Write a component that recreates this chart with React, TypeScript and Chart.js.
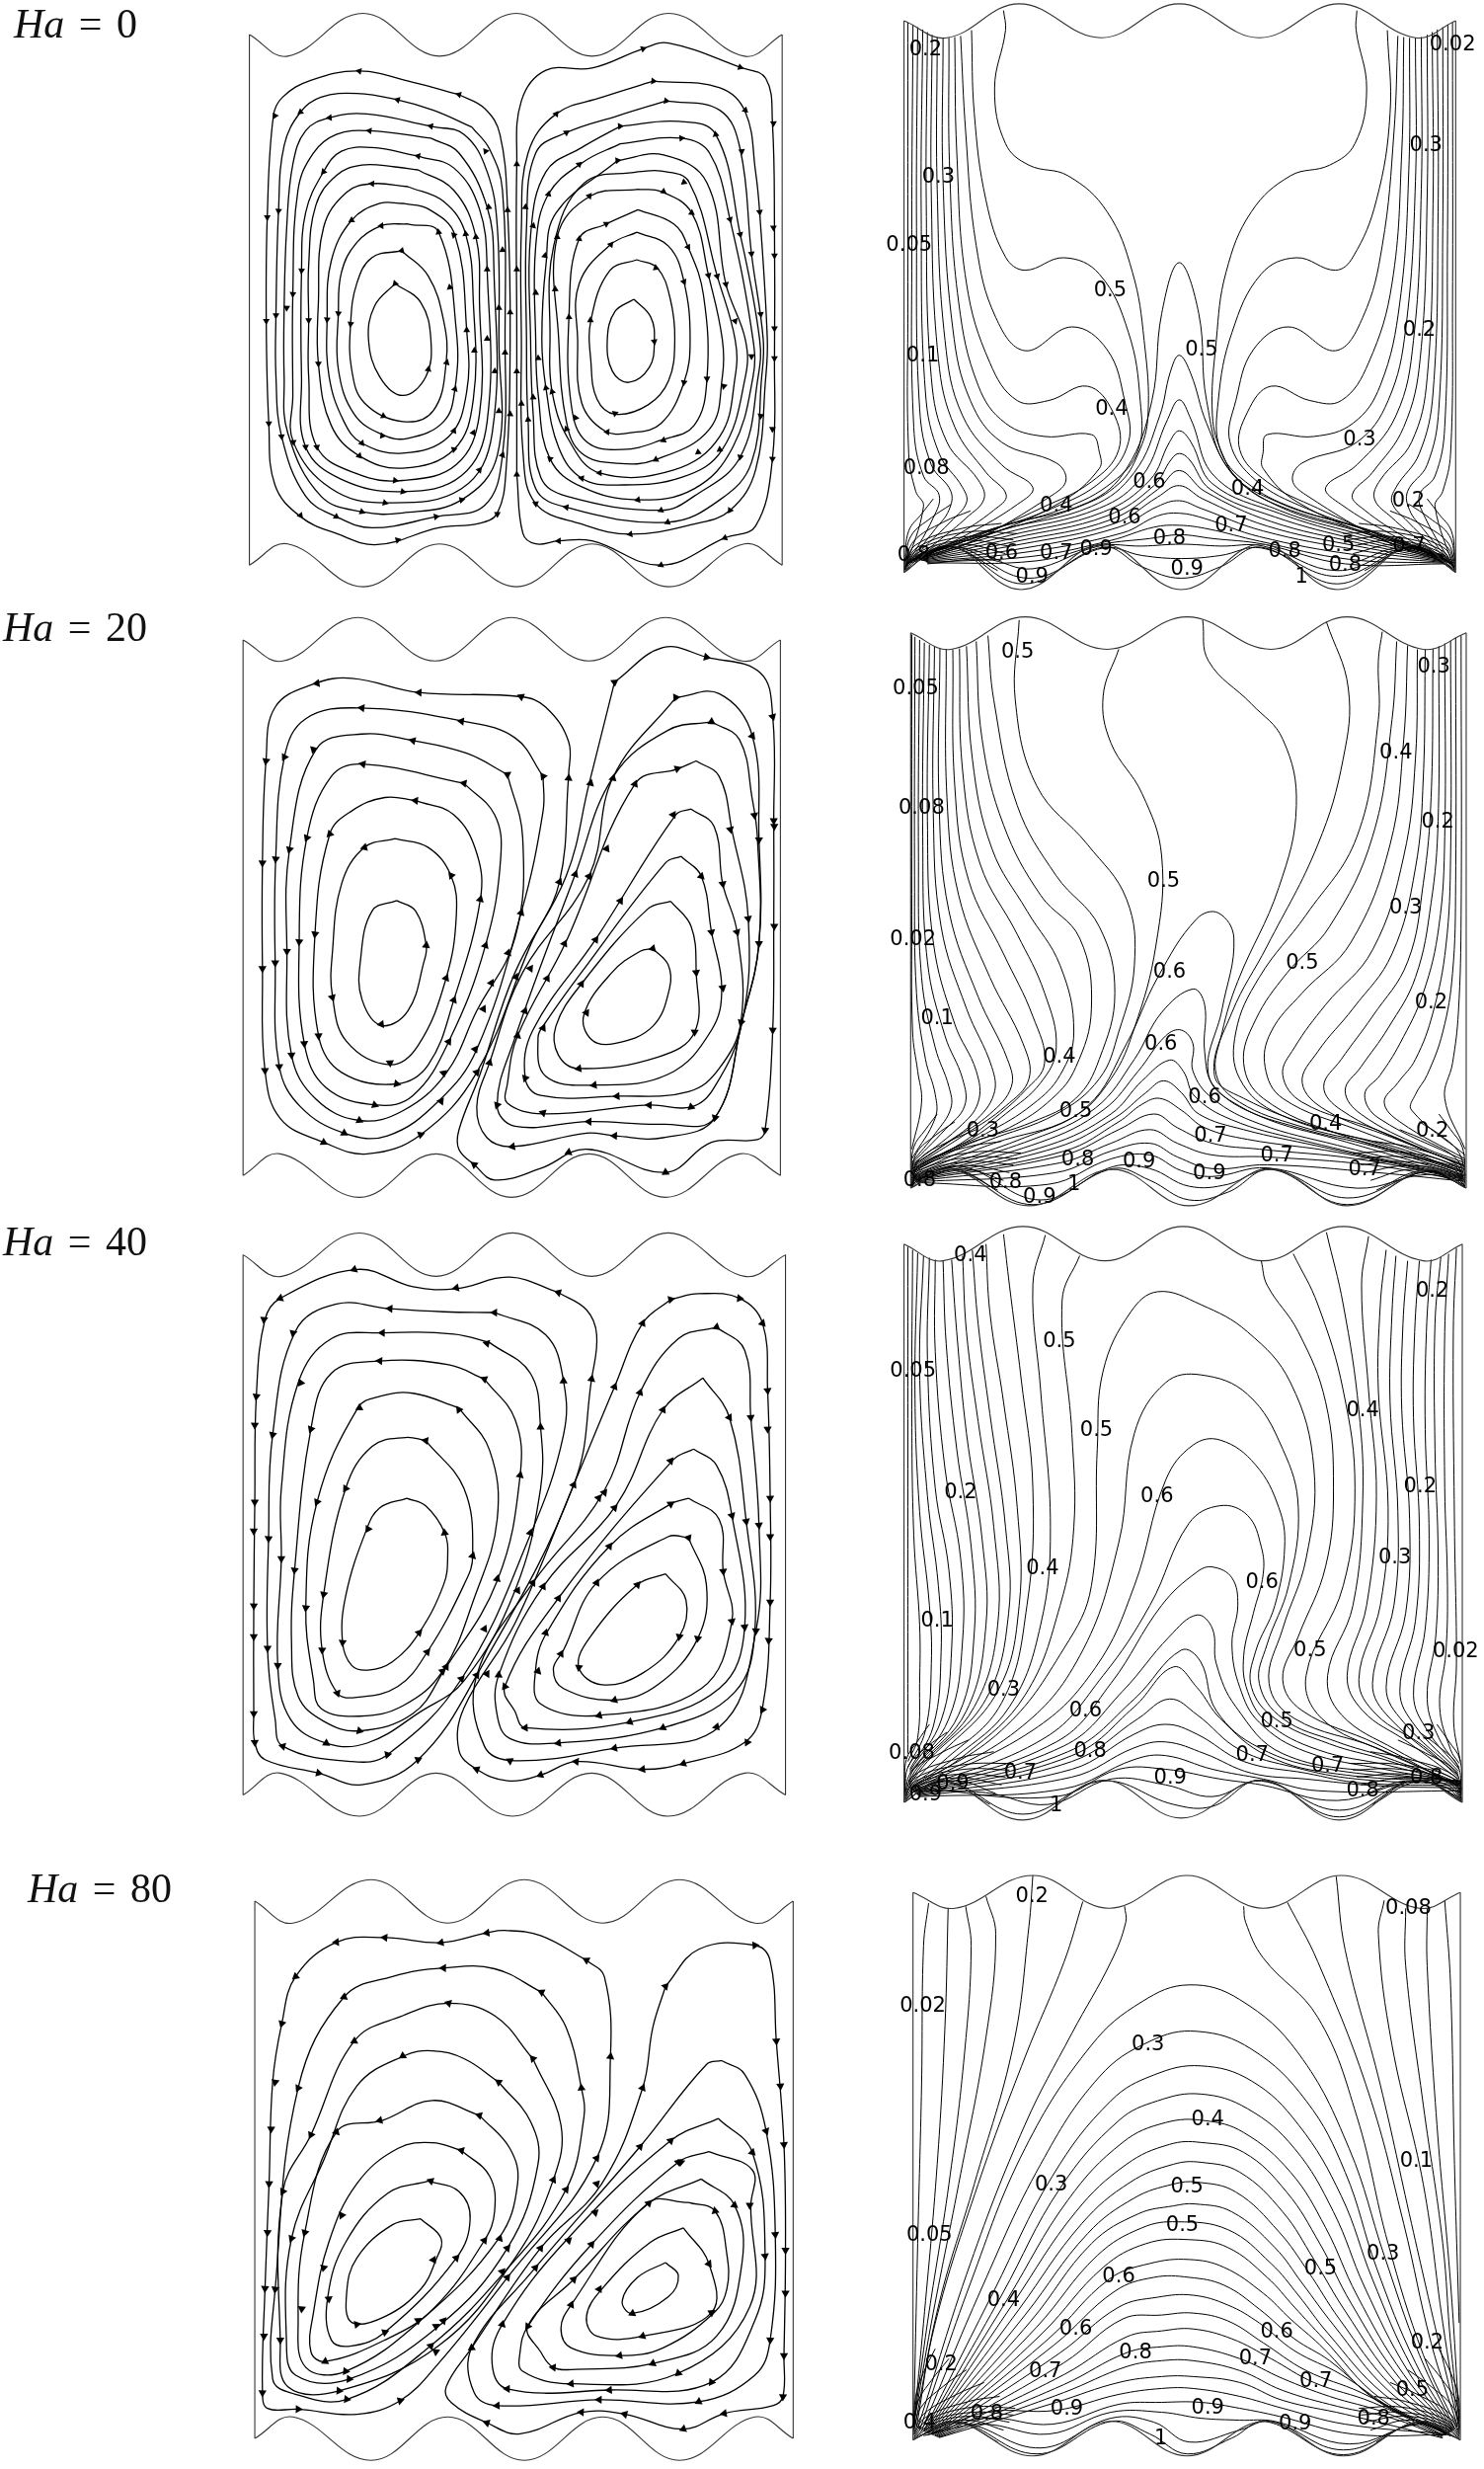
import React, { useEffect, useRef } from "react";
import { Chart, registerables } from "chart.js";
Chart.register(...registerables);

// ---- Values; every panel uses a 0..1568 axis on both directions ----
const ha0WaveTop = [480,82,555,140,702,25,852,140,1002,25,1150,140,1300,25,1448,140,1522,82];
const ha0WaveBottom = [480,1505,555,1448,703,1563,852,1448,1002,1563,1150,1448,1300,1563,1448,1448,1522,1505];
const ha0Stream: number[][] = [
 [765,750,725,810,713,900,735,1000,780,1050,825,1000,835,900,815,800,765,750],
 [778,662,720,680,690,750,678,858,680,980,705,1070,780,1120,840,1090,865,960,860,850,830,730,778,662],
 [790,590,738,595,690,640,660,720,654,830,654,980,685,1100,740,1155,790,1165,860,1120,882,1033,885,880,850,612,790,590],
 [780,535,735,535,680,580,640,690,632,846,636,1000,665,1120,700,1178,780,1205,870,1160,905,1040,905,875,882,620,830,550,780,535],
 [790,490,720,482,670,505,625,600,615,800,615,965,640,1130,695,1212,780,1245,880,1195,918,1060,918,800,903,617,860,530,790,490],
 [810,445,765,437,700,432,650,460,610,540,596,700,596,848,596,1000,612,1188,690,1260,780,1278,885,1235,930,1100,930,800,923,625,880,500,810,445],
 [810,408,720,385,660,395,625,450,590,560,582,715,582,1000,590,1188,660,1275,780,1308,895,1265,945,1120,945,712,930,550,880,440,810,408],
 [835,360,715,340,650,350,605,400,575,500,565,778,565,1050,566,1175,640,1300,745,1338,895,1300,955,1150,958,700,945,545,890,400,835,360],
 [835,328,710,295,637,305,590,340,565,430,553,600,548,815,548,1000,555,1150,620,1320,700,1362,780,1365,895,1330,965,1210,968,900,965,600,945,450,900,350,835,328],
 [915,330,840,285,770,257,690,240,620,250,580,290,548,380,537,555,532,835,532,1000,543,1160,590,1320,650,1375,720,1405,845,1375,940,1345,975,1210,980,900,975,500,950,390,915,330],
 [890,243,800,210,695,180,600,205,545,250,527,300,515,570,513,850,518,1125,530,1290,580,1375,650,1420,730,1450,850,1405,930,1393,965,1365,982,1250,990,900,985,550,970,350,940,280,890,243],
 [1232,792,1265,840,1272,905,1262,975,1222,1015,1190,985,1180,900,1195,825,1232,792],
 [1238,686,1278,708,1303,790,1312,900,1300,1010,1260,1075,1195,1100,1160,1060,1148,960,1148,848,1185,715,1238,686],
 [1238,612,1300,650,1330,745,1342,900,1330,1015,1285,1125,1225,1150,1175,1145,1130,1070,1122,900,1125,750,1187,645,1238,612],
 [1240,552,1310,590,1338,652,1368,780,1375,1005,1350,1130,1285,1170,1210,1195,1140,1175,1110,1080,1105,840,1125,630,1178,590,1240,552],
 [1240,497,1285,503,1345,560,1378,728,1405,900,1405,1000,1380,1140,1275,1222,1200,1232,1130,1205,1100,1120,1085,900,1082,625,1147,515,1240,497],
 [1240,450,1285,448,1340,478,1395,730,1430,900,1430,1000,1400,1160,1310,1250,1165,1258,1105,1170,1072,1040,1068,900,1075,650,1135,480,1240,450],
 [1200,420,1290,405,1375,480,1412,752,1450,900,1450,1000,1405,1195,1325,1270,1200,1290,1130,1272,1085,1190,1060,1030,1052,900,1060,700,1080,560,1200,420],
 [1205,375,1325,360,1380,400,1420,578,1465,900,1465,1000,1425,1190,1350,1300,1240,1330,1130,1295,1068,1220,1045,1050,1040,900,1040,650,1065,510,1132,425,1205,375],
 [1205,328,1320,315,1392,350,1440,618,1478,900,1475,1000,1440,1215,1350,1320,1285,1358,1100,1320,1050,1270,1035,1100,1030,900,1030,620,1060,450,1130,385,1205,328],
 [1295,260,1400,285,1440,390,1462,670,1485,900,1482,1000,1462,1230,1400,1330,1298,1390,1100,1350,1040,1300,1025,1115,1022,900,1022,600,1040,400,1100,345,1200,300,1295,260],
 [1270,207,1400,225,1450,290,1470,450,1478,558,1493,900,1490,1000,1470,1250,1420,1358,1350,1395,1225,1422,1130,1395,1040,1340,1015,1200,1012,900,1012,600,1025,400,1080,295,1170,250,1270,207],
 [1003,1262,1003,900,1003,430,1012,260,1060,178,1150,172,1250,120,1300,105,1440,170,1490,200,1503,320,1507,600,1507,950,1503,1220,1470,1400,1410,1432,1285,1505,1150,1440,1085,1440,1040,1448,1015,1420,1003,1262],
];
const ha0Arrows = [695,180,890,243,530,300,515,572,513,850,518,1125,580,1372,650,1375,770,1438,965,1368,770,257,580,290,537,555,532,835,543,1160,700,1362,845,1375,835,328,637,305,553,815,565,778,582,715,566,1175,590,1188,612,1188,745,1338,780,1308,895,1330,715,340,625,450,596,848,615,965,695,1212,765,1278,810,408,720,482,680,580,632,846,654,830,678,858,738,595,778,662,765,750,742,1105,740,1158,700,1178,830,980,866,962,882,1033,880,1145,920,930,918,1150,880,1195,930,1250,975,1210,945,712,948,545,942,395,903,617,923,625,850,612,880,620,872,760,905,875,975,660,968,815,990,827,945,898,980,935,960,985,1003,712,968,1092,990,1100,1003,985,1012,1072,1035,1055,1025,1115,1060,1030,1072,1040,1045,950,1040,775,1058,675,1078,765,1105,840,1147,848,1035,595,1020,545,985,553,1003,430,1003,1262,1080,295,1100,345,1125,430,1145,515,1178,590,1187,645,1125,630,1082,625,1065,510,1270,207,1295,260,1205,328,1200,420,1290,503,1325,360,1250,120,1440,170,1450,285,1392,350,1443,395,1330,478,1345,560,1420,578,1440,618,1478,558,1462,670,1338,652,1275,708,1330,745,1378,728,1395,730,1412,752,1430,850,1480,832,1462,945,1272,905,1330,1015,1375,1005,1408,1025,1480,1105,1440,1215,1400,1195,1350,1188,1290,1170,1195,1098,1180,1148,1275,1222,1165,1258,1130,1272,1240,1330,1100,1350,1285,1358,1298,1390,1225,1422,1085,1440,1040,1340,1068,1220,1100,1140,1118,1110,1505,320,1505,600,1507,675,1507,870,1507,950,1503,1140,1503,1220,1410,1432,1420,1358,1285,1505];

const ha0IsoTop = [90,55,200,100,385,10,595,100,795,10,1000,100,1205,10,1400,100,1503,55];
const ha0IsoBottom = [90,1515,200,1440,390,1560,600,1440,800,1560,1005,1440,1200,1560,1395,1440,1503,1515];
const ha0Iso: number[][] = [
 [345,28,350,80,322,235,350,380,410,437,510,465,610,560,675,720,705,900,715,1100,690,1200,640,1280,540,1340,350,1400,120,1470],
 [263,80,270,300,300,530,350,680,400,715,500,682,590,725,665,880,695,1060,690,1190,625,1275,500,1345,300,1405,115,1475],
 [235,95,248,350,275,650,325,840,400,928,520,865,610,925,655,1060,665,1170,600,1270,470,1345,280,1415,112,1480],
 [220,98,225,400,250,750,310,960,380,1060,460,1060,560,1022,625,1090,640,1190,570,1275,440,1345,270,1422,110,1482],
 [205,100,207,450,230,800,280,1020,350,1120,450,1155,570,1150,590,1195,590,1240,490,1330,270,1430,108,1485],
 [190,100,190,480,215,870,260,1060,340,1170,480,1225,505,1270,470,1310,260,1435,105,1490],
 [175,98,175,500,195,900,240,1100,340,1230,420,1290,380,1335,250,1415,100,1490],
 [162,92,160,520,178,950,220,1130,300,1250,352,1310,320,1350,220,1420,98,1492],
 [150,85,147,540,160,1000,200,1170,280,1270,295,1320,250,1370,180,1430,96,1495],
 [138,78,134,560,145,1040,180,1200,240,1290,250,1330,210,1380,150,1440,94,1498],
 [125,72,122,600,130,1080,160,1230,210,1300,205,1350,170,1400,92,1500],
 [113,65,110,650,115,1130,140,1260,180,1310,165,1370,92,1505],
 [100,60,100,800,102,1200,120,1300,140,1340,92,1508],
 [130,1470,330,1395,560,1330,660,1240,725,1060,750,830,795,695,845,830,865,1060,920,1240,1050,1330,1250,1395,1470,1470],
 [130,1472,340,1402,570,1340,680,1250,745,1100,772,985,795,940,825,990,865,1120,930,1250,1050,1340,1250,1405,1470,1472],
 [135,1474,350,1410,590,1345,700,1260,765,1110,795,1058,825,1110,885,1260,1050,1350,1250,1412,1470,1475],
 [135,1476,360,1417,600,1355,720,1270,770,1170,795,1140,825,1170,880,1280,1050,1358,1250,1420,1470,1477],
 [138,1478,370,1424,610,1365,730,1285,775,1215,795,1200,820,1215,875,1295,1040,1368,1250,1428,1470,1479],
 [140,1480,380,1432,620,1375,740,1295,795,1245,860,1300,1030,1380,1250,1436,1470,1482],
 [140,1482,390,1440,630,1385,740,1315,795,1285,855,1320,1020,1392,1250,1445,1470,1484],
 [142,1484,400,1450,640,1395,740,1340,795,1325,850,1345,1010,1405,1250,1455,1470,1486],
 [145,1486,410,1460,650,1410,740,1365,795,1358,860,1372,1000,1420,1240,1467,1472,1488],
 [148,1488,420,1472,620,1430,730,1395,795,1390,870,1400,1000,1432,1230,1480,1474,1490],
 [150,1490,430,1484,600,1440,720,1425,795,1415,880,1425,1010,1440,1220,1492,1476,1492],
 [150,1492,300,1480,420,1505,590,1445,700,1445,800,1440,900,1445,1010,1445,1200,1510,1380,1450,1480,1495],
 [130,1480,220,1445,410,1530,600,1450,700,1470,800,1478,900,1470,1005,1450,1200,1525,1395,1446,1490,1500],
 [120,1485,210,1445,395,1545,600,1448,700,1500,800,1530,900,1500,1005,1448,1200,1545,1395,1443,1495,1505],
 [1250,28,1248,80,1275,235,1245,380,1180,437,1080,465,980,560,915,720,890,900,880,1100,905,1200,955,1280,1055,1340,1245,1400,1475,1470],
 [1328,80,1335,300,1300,530,1240,680,1195,715,1095,682,1005,725,930,880,895,1060,900,1190,965,1275,1090,1345,1290,1405,1478,1475],
 [1355,95,1345,350,1315,650,1265,840,1195,928,1075,865,985,925,940,1060,925,1170,990,1270,1120,1345,1310,1415,1480,1480],
 [1370,98,1365,400,1340,750,1280,960,1210,1060,1130,1060,1030,1022,970,1090,950,1190,1020,1275,1150,1345,1320,1422,1482,1482],
 [1385,100,1383,450,1360,800,1310,1020,1240,1120,1140,1155,1020,1150,1010,1195,1010,1240,1100,1330,1320,1430,1485,1485],
 [1400,100,1400,480,1375,870,1330,1060,1250,1170,1110,1225,1085,1270,1120,1310,1330,1435,1488,1490],
 [1415,98,1415,500,1395,900,1350,1100,1250,1230,1170,1290,1210,1335,1340,1415,1490,1490],
 [1430,92,1430,520,1412,950,1370,1130,1290,1250,1238,1310,1270,1350,1370,1420,1492,1492],
 [1443,85,1445,540,1430,1000,1390,1170,1310,1270,1295,1320,1340,1370,1410,1430,1495,1495],
 [1456,78,1458,560,1445,1040,1410,1200,1350,1290,1340,1330,1380,1380,1440,1440,1497,1498],
 [1470,72,1470,600,1460,1080,1430,1230,1380,1300,1385,1350,1420,1400,1500,1500],
 [1483,65,1482,650,1475,1130,1450,1260,1410,1310,1425,1370,1500,1505],
 [1495,60,1495,800,1490,1200,1470,1300,1450,1340,1500,1508],
];
const ha0IsoFan: number[][] = [
 [92,1513,150,1470,215,1448,330,1510],[92,1511,140,1470,240,1450,340,1485],[92,1509,135,1465,240,1440,350,1465],[92,1507,130,1460,245,1430,360,1445],[92,1504,125,1455,250,1420,370,1428],[92,1501,125,1448,250,1408,380,1412],[92,1498,120,1442,240,1398,340,1385],[92,1494,115,1432,190,1382,260,1352],[92,1489,108,1418,160,1370,210,1335],[92,1484,102,1405,135,1360,165,1320],
 [1502,1513,1440,1470,1385,1448,1270,1510],[1502,1511,1450,1470,1355,1450,1255,1485],[1502,1509,1455,1465,1350,1440,1240,1465],[1502,1507,1460,1460,1345,1430,1235,1445],[1502,1504,1465,1455,1340,1420,1225,1428],[1502,1501,1470,1448,1340,1408,1215,1412],[1502,1498,1475,1442,1350,1398,1255,1385],[1502,1494,1480,1432,1405,1382,1335,1352],[1502,1489,1487,1418,1435,1370,1385,1335],[1502,1484,1492,1405,1460,1360,1430,1320],
];
const ha0IsoLabels: [string, number, number][] = [["0.2",145,133],["0.02",1495,118],["0.3",178,468],["0.3",1427,385],["0.05",103,650],["0.5",618,770],["0.2",1410,873],["0.5",852,927],["0.1",138,943],["0.4",622,1083],["0.3",1257,1165],["0.08",147,1240],["0.6",718,1278],["0.4",970,1295],["0.2",1382,1327],["0.4",480,1340],["0.6",655,1370],["0.7",928,1392],["0.8",770,1425],["0.5",1203,1443],["0.7",1383,1447],["0.8",1065,1460],["0.6",340,1465],["0.7",480,1465],["0.9",582,1455],["0.8",115,1470],["0.8",1220,1497],["0.9",815,1507],["0.9",418,1527],["1",1108,1527]];

const ha20WaveTop = [467,85,545,140,692,27,843,140,993,27,1145,140,1295,27,1445,140,1520,85];
const ha20WaveBottom = [467,1478,540,1422,695,1535,845,1422,993,1535,1145,1422,1295,1535,1440,1422,1520,1478];
const ha20Stream: number[][] = [
 [768,763,720,790,697,920,700,1020,738,1088,790,1050,822,920,826,880,805,790,768,763],
 [765,602,705,625,660,720,642,900,642,1010,670,1130,755,1190,810,1140,865,965,885,800,875,700,830,625,765,602],
 [805,503,745,495,680,530,637,590,608,850,615,1115,660,1210,768,1240,830,1190,880,1022,932,760,925,640,880,540,805,503],
 [900,458,700,408,640,440,592,600,577,870,587,1135,630,1250,730,1295,800,1270,870,1130,942,880,972,650,960,540,900,458],
 [985,435,905,380,800,347,700,330,610,370,558,630,553,895,562,1165,610,1280,695,1335,780,1310,865,1212,925,1050,1000,860,1015,600,985,435],
 [1055,440,1000,340,900,297,695,262,590,290,548,390,531,655,530,925,538,1195,580,1300,665,1368,750,1375,850,1285,925,1150,1012,795,1055,530,1055,440],
 [1105,440,1105,350,1060,260,1012,233,812,222,680,185,605,200,530,260,512,400,505,665,505,940,510,1205,540,1330,625,1392,710,1422,815,1372,925,1210,1030,880,1087,715,1105,440],
 [1270,888,1300,930,1303,990,1270,1090,1195,1135,1150,1125,1135,1060,1190,950,1245,895,1270,888],
 [1305,765,1345,830,1355,950,1352,1105,1280,1170,1125,1200,1085,1165,1080,1090,1130,980,1260,785,1305,765],
 [1325,648,1365,700,1385,845,1405,990,1385,1100,1300,1215,1155,1243,1060,1220,1045,1120,1060,1080,1130,950,1295,665,1325,648],
 [1345,525,1390,570,1407,720,1435,845,1443,1075,1400,1200,1340,1260,1200,1272,1050,1270,1020,1225,1035,1100,1160,860,1315,540,1345,525],
 [1355,400,1400,440,1425,580,1457,810,1445,1080,1390,1250,1345,1300,1263,1295,1055,1318,985,1290,985,1240,1005,1115,1100,870,1235,460,1320,420,1355,400],
 [1385,298,1440,345,1465,500,1475,600,1478,875,1445,1075,1390,1330,1290,1345,1145,1338,1000,1350,965,1295,1000,1120,1118,695,1193,440,1300,320,1385,298],
 [1315,235,1400,225,1465,335,1478,600,1478,875,1445,1075,1392,1328,1290,1380,1195,1375,1140,1368,995,1403,945,1380,925,1300,950,1185,1015,950,1145,700,1193,440,1315,235],
 [1195,195,1290,105,1375,130,1480,170,1505,285,1507,560,1507,830,1505,1100,1490,1360,1475,1385,1385,1392,1295,1470,1140,1410,1050,1460,960,1490,920,1450,890,1410,890,1360,930,1220,1000,950,1100,700,1145,460,1195,195],
];
const ha20Arrows = [612,198,812,222,1012,233,512,400,505,665,505,940,510,1205,625,1392,815,1372,700,262,895,297,548,390,531,655,530,925,538,1195,665,1368,855,1285,800,347,605,370,558,630,553,895,562,1165,695,1335,860,1212,702,408,900,458,985,435,592,600,577,870,587,1135,725,1295,870,1130,805,503,637,590,608,850,615,1115,768,1240,880,1022,705,625,875,698,642,1015,755,1185,865,965,932,760,1055,440,1105,445,738,1085,826,880,942,880,940,968,938,1045,922,1150,950,1185,925,1210,1012,795,1000,905,1002,962,1030,940,1008,1045,1005,1115,1020,1225,965,1295,1055,1315,995,1403,1145,1338,1195,1375,1105,1418,920,1450,1295,1470,1490,1360,1392,1328,1345,1300,1263,1295,1200,1272,1155,1243,1125,1200,1195,195,1148,458,1192,445,1235,460,1318,420,1315,235,1385,298,1375,130,1505,285,1465,335,1507,555,1508,570,1508,830,1505,1100,1448,545,1422,578,1478,605,1407,720,1457,810,1435,845,1478,875,1385,845,1355,950,1407,990,1443,1080,1352,1105,1365,700,1310,540,1200,640,1188,748,1118,695,1145,700,1087,715,1158,865,1097,875,1077,975,1130,980,1055,1095,1140,1055,1270,888];

const ha20IsoTop = [107,78,210,120,400,37,610,120,815,37,1030,120,1225,37,1420,120,1530,78];
const ha20IsoBottom = [107,1500,210,1452,410,1545,625,1452,820,1545,1030,1452,1225,1545,1430,1452,1530,1500];
const ha20Iso: number[][] = [
 [640,120,600,240,620,360,700,490,750,650,735,880,680,1090,620,1220,520,1320,320,1385,115,1465],
 [385,45,375,250,430,470,560,620,660,760,680,930,640,1100,590,1220,480,1310,300,1380,115,1460],
 [305,85,320,250,380,520,480,700,590,830,630,1000,590,1170,530,1270,420,1330,260,1385,113,1458],
 [275,100,290,350,345,570,440,750,540,860,570,1040,530,1190,470,1270,360,1345,230,1395,112,1456],
 [250,112,265,400,315,630,405,790,490,930,525,1100,490,1210,420,1285,300,1360,200,1405,111,1455],
 [232,118,240,430,285,670,380,850,450,1000,480,1140,440,1230,350,1310,260,1375,180,1415,110,1452],
 [215,120,220,470,255,710,345,900,420,1060,450,1180,400,1250,310,1330,220,1395,110,1450],
 [198,120,200,500,230,750,310,960,395,1130,410,1220,350,1290,250,1360,110,1448],
 [182,118,180,520,205,790,280,1010,355,1170,365,1240,310,1310,215,1375,110,1445],
 [168,113,165,540,185,830,250,1040,315,1190,320,1260,270,1330,190,1390,110,1442],
 [155,108,150,560,165,870,220,1080,275,1200,280,1280,230,1345,110,1440],
 [142,103,138,600,150,920,195,1110,240,1220,245,1290,195,1350,110,1437],
 [130,96,127,640,135,960,170,1140,205,1240,210,1295,170,1360,110,1434],
 [118,88,117,700,122,1000,145,1170,170,1260,170,1320,110,1425],
 [110,82,110,800,112,1100,125,1200,135,1280,110,1400],
 [115,1468,400,1370,560,1290,660,1130,740,960,840,810,895,795,935,860,905,1040,870,1210,950,1290,1100,1345,1300,1395,1522,1465],
 [115,1470,420,1375,580,1295,680,1170,750,1050,830,990,860,1030,860,1150,885,1240,1000,1315,1200,1375,1522,1467],
 [115,1472,440,1382,600,1300,690,1200,760,1110,800,1095,830,1130,830,1200,880,1270,1000,1335,1200,1390,1522,1469],
 [115,1474,460,1390,620,1310,700,1225,770,1172,805,1200,835,1265,930,1325,1100,1375,1522,1471],
 [118,1476,480,1396,630,1320,710,1255,755,1225,800,1255,845,1310,960,1350,1150,1392,1522,1473],
 [118,1478,500,1405,640,1330,700,1285,745,1270,800,1300,860,1345,970,1375,1200,1408,1522,1475],
 [120,1480,500,1415,640,1350,730,1310,790,1345,880,1385,1000,1400,1250,1425,1522,1477],
 [120,1482,490,1435,620,1385,720,1350,790,1385,880,1415,1020,1420,1280,1440,1522,1480],
 [122,1484,480,1460,620,1405,720,1385,790,1420,880,1450,1020,1440,1300,1460,1522,1482],
 [125,1486,460,1490,620,1425,720,1415,800,1455,880,1470,1020,1448,1250,1500,1430,1465,1525,1490],
 [125,1475,240,1445,440,1530,625,1445,720,1450,820,1495,920,1490,1030,1450,1225,1525,1430,1458,1525,1495],
 [120,1480,220,1450,420,1542,625,1450,720,1480,820,1530,920,1510,1030,1452,1225,1542,1430,1455,1527,1498],
 [855,45,870,150,980,260,1060,350,1095,520,1050,730,945,970,905,1100,890,1210,950,1280,1100,1340,1300,1390,1522,1460],
 [1172,50,1228,220,1215,400,1150,620,1020,880,930,1050,885,1210,960,1270,1150,1345,1350,1395,1522,1458],
 [1315,75,1305,150,1305,300,1250,600,1120,800,1000,960,940,1100,950,1220,1050,1310,1300,1385,1522,1455],
 [1352,100,1340,300,1290,600,1180,830,1070,950,990,1070,960,1180,1010,1270,1200,1360,1522,1450],
 [1380,110,1370,350,1335,620,1235,870,1110,1000,1030,1100,1015,1190,1060,1270,1250,1350,1522,1448],
 [1405,120,1400,400,1370,650,1290,890,1170,1030,1090,1140,1060,1210,1110,1280,1300,1350,1525,1445],
 [1425,120,1420,450,1400,680,1340,900,1240,1040,1150,1150,1110,1230,1170,1300,1340,1370,1525,1442],
 [1445,118,1440,500,1420,720,1380,920,1290,1060,1210,1170,1165,1240,1210,1300,1380,1385,1525,1440],
 [1460,112,1458,560,1440,770,1400,960,1330,1090,1260,1190,1220,1250,1260,1310,1420,1395,1527,1435],
 [1475,105,1475,600,1460,830,1420,1000,1360,1130,1310,1210,1270,1260,1305,1320,1527,1430],
 [1490,98,1490,650,1478,880,1445,1050,1400,1170,1355,1230,1320,1280,1360,1330,1527,1425],
 [1503,90,1503,720,1495,950,1470,1100,1430,1210,1400,1260,1390,1300,1527,1415],
 [1517,85,1517,800,1510,1050,1495,1180,1475,1270,1527,1400],
];
const ha20IsoFan: number[][] = [
 [108,1499,160,1470,225,1455,330,1505],[108,1497,150,1468,250,1452,345,1480],[108,1495,150,1460,255,1442,360,1460],[108,1492,145,1455,260,1432,370,1440],[108,1489,140,1450,265,1420,380,1425],[108,1486,140,1442,265,1408,390,1410],[108,1483,135,1436,250,1395,340,1380],[108,1479,130,1425,205,1380,275,1350],[108,1474,122,1410,170,1365,220,1330],[108,1469,115,1395,145,1350,175,1310],
 [1528,1499,1475,1470,1410,1455,1300,1505],[1528,1497,1485,1468,1385,1452,1285,1480],[1528,1495,1488,1460,1380,1442,1270,1460],[1528,1492,1492,1455,1375,1432,1260,1440],[1528,1489,1495,1450,1370,1420,1250,1425],[1528,1486,1498,1442,1370,1408,1240,1410],[1528,1483,1500,1436,1385,1395,1295,1380],[1528,1479,1505,1425,1430,1380,1360,1350],[1528,1474,1512,1410,1465,1365,1410,1330],[1528,1469,1520,1395,1490,1350,1460,1310],
];
const ha20IsoLabels: [string, number, number][] = [["0.5",381,128],["0.05",120,222],["0.08",135,527],["0.02",113,865],["0.1",175,1065],["0.4",488,1165],["0.3",292,1355],["0.5",530,1305],["0.8",535,1428],["0.8",350,1487],["0.9",437,1525],["1",525,1490],["0.8",130,1482],["0.9",692,1432],["0.9",872,1463],["0.7",875,1367],["0.6",860,1268],["0.6",748,1132],["0.6",770,947],["0.5",755,715],["0.5",1110,925],["0.4",1350,385],["0.3",1447,165],["0.2",1457,563],["0.3",1375,783],["0.2",1440,1025],["0.4",1170,1337],["0.2",1443,1355],["0.7",1045,1417],["0.7",1270,1453]];

const ha40WaveTop = [467,92,543,148,695,35,845,148,995,35,1150,148,1300,35,1450,148,1530,92];
const ha40WaveBottom = [467,1497,540,1440,695,1552,845,1440,995,1552,1150,1440,1300,1552,1450,1440,1530,1497];
const ha40Stream: number[][] = [
 [788,725,735,750,708,810,668,980,662,1100,680,1160,712,1172,760,1150,812,1075,860,950,868,880,862,815,825,745,788,725],
 [825,575,785,567,720,590,668,700,625,975,622,1120,652,1232,690,1243,770,1215,828,1125,900,950,917,875,900,700,825,575],
 [890,490,800,452,735,460,692,490,612,735,590,1010,605,1200,620,1272,695,1292,780,1265,858,1175,920,985,965,780,950,600,890,490],
 [940,415,870,378,735,368,640,400,600,545,568,912,562,1100,575,1240,625,1305,695,1330,800,1285,860,1175,965,940,1010,665,1000,520,940,415],
 [950,320,880,298,740,295,640,310,575,425,542,700,542,882,535,1160,560,1300,630,1362,710,1362,815,1280,900,1200,1000,965,1050,700,1050,540,1030,400,950,320],
 [960,242,860,240,755,232,650,220,570,290,525,560,517,830,515,1115,530,1300,545,1370,680,1410,750,1392,895,1195,1030,820,1095,560,1095,420,1060,300,960,242],
 [1085,190,990,150,885,180,800,175,690,130,540,205,510,260,493,460,490,735,488,1005,488,1285,490,1360,510,1405,615,1440,700,1470,810,1405,925,1185,1115,690,1150,415,1160,300,1140,235,1085,190],
 [1295,922,1335,990,1322,1085,1250,1180,1170,1210,1125,1165,1145,1090,1240,950,1295,922],
 [1340,828,1375,950,1358,1090,1280,1210,1195,1250,1095,1220,1075,1170,1095,1120,1160,945,1300,825,1340,828],
 [1340,725,1400,780,1408,915,1425,1045,1365,1220,1165,1290,1050,1260,1040,1175,1062,1075,1185,850,1305,740,1340,725],
 [1350,597,1395,640,1425,770,1450,1060,1400,1220,1225,1307,1020,1322,1000,1280,980,1215,1085,985,1310,625,1350,597],
 [1368,412,1420,515,1453,785,1470,1070,1430,1230,1290,1322,1080,1362,990,1350,965,1290,968,1185,1055,955,1200,740,1290,495,1368,412],
 [1395,280,1450,340,1462,515,1478,795,1472,1070,1400,1320,1195,1375,1000,1408,940,1370,925,1185,1035,945,1175,705,1245,450,1320,310,1395,280],
 [1305,208,1360,193,1440,205,1485,270,1495,445,1500,725,1500,995,1485,1270,1450,1360,1330,1415,1250,1430,1120,1410,1050,1445,985,1460,925,1430,890,1380,900,1270,1000,1050,1115,690,1195,435,1250,270,1305,208],
];
const ha40Arrows = [685,130,885,178,1085,190,540,205,508,260,493,460,490,535,490,735,488,810,488,1005,488,1085,488,1285,490,1360,615,1440,810,1405,755,232,960,242,565,295,525,560,517,830,515,1115,545,1370,750,1392,895,1195,740,295,945,322,580,425,542,882,535,1160,630,1362,925,1185,735,368,940,415,600,545,568,912,590,1010,695,1330,858,1175,695,490,890,495,612,735,625,975,622,1120,652,1232,828,1125,825,575,668,700,662,1100,712,805,862,815,812,1075,917,875,965,935,1010,665,1050,540,1095,420,1150,415,1115,690,1145,705,1175,710,1030,815,1005,965,1035,945,1055,955,1085,985,940,1065,880,1175,945,1182,968,1185,1045,1175,980,1215,1020,1322,990,1408,925,1430,1050,1445,1120,1410,1250,1430,1330,1415,1455,1360,1485,1275,1395,1320,1290,1322,1225,1307,1195,1375,1085,1362,1165,1290,1195,1250,1125,1165,1090,1130,1060,1075,1160,945,1185,850,1240,950,1195,750,1305,740,1305,628,1245,450,1195,435,1290,495,1250,270,1305,208,1440,205,1485,270,1495,445,1495,545,1500,725,1500,825,1500,995,1497,1095,1395,280,1462,515,1478,795,1472,1070,1420,515,1453,785,1450,1060,1425,770,1408,915,1425,1045,1358,1090,1322,1085,1340,828];

const ha40IsoTop = [90,75,190,118,395,30,605,118,805,30,1010,118,1215,30,1420,118,1520,75];
const ha40IsoBottom = [90,1505,190,1448,395,1550,600,1448,800,1545,1005,1448,1205,1550,1400,1448,1520,1505];
const ha40Iso: number[][] = [
 [1005,118,1020,180,1100,300,1170,480,1190,700,1170,900,1100,1080,1060,1190,1110,1270,1300,1355,1510,1465],
 [540,105,495,220,520,560,525,800,490,1000,400,1230,250,1380,105,1470],
 [452,52,420,180,440,450,465,800,440,1050,360,1260,220,1390,105,1468],
 [345,50,360,180,390,420,420,700,405,1000,340,1250,190,1400,105,1465],
 [300,75,310,250,345,480,380,750,385,1000,330,1220,170,1395,105,1462],
 [265,90,280,280,310,510,350,800,358,1020,300,1240,150,1400,103,1460],
 [240,105,250,300,280,530,320,800,330,1050,270,1260,135,1410,103,1458],
 [212,115,225,300,250,560,290,830,300,1050,250,1270,125,1415,102,1455],
 [190,118,198,330,225,600,262,850,270,1070,230,1280,115,1420,102,1452],
 [170,115,170,350,195,650,235,880,240,1090,205,1290,105,1430],
 [155,110,150,370,170,700,205,910,212,1110,185,1295,105,1425],
 [140,105,130,400,150,720,178,950,185,1120,165,1310,105,1420],
 [125,98,118,450,130,760,155,1000,160,1150,145,1320,100,1415],
 [112,90,110,500,115,820,130,1050,130,1200,125,1340,100,1400],
 [100,82,100,800,100,1200,100,1380],
 [110,1468,340,1320,500,1110,570,950,585,600,600,400,670,250,740,197,850,230,970,300,1080,430,1140,650,1120,880,1060,1060,1025,1200,1090,1290,1300,1365,1510,1462],
 [110,1470,380,1320,540,1130,640,840,680,560,760,430,850,410,970,460,1060,600,1100,750,1075,950,1020,1100,1000,1200,1060,1290,1200,1350,1320,1388,1510,1460],
 [112,1472,420,1320,580,1160,680,950,760,680,830,590,900,577,990,640,1050,750,1065,850,1040,1000,990,1120,980,1210,1040,1290,1180,1355,1320,1395,1512,1458],
 [112,1474,450,1340,600,1180,720,1000,820,790,900,745,970,770,1005,850,1010,920,985,1020,960,1130,970,1220,1020,1300,1150,1370,1330,1410,1512,1455],
 [114,1476,480,1350,620,1200,750,1000,840,915,880,902,930,930,945,1000,930,1100,950,1210,1000,1300,1120,1375,1320,1420,1514,1452],
 [116,1478,500,1360,650,1220,770,1080,840,1025,880,1060,890,1150,940,1260,1060,1380,1320,1430,1514,1450],
 [118,1480,510,1375,680,1240,800,1115,850,1145,890,1270,1000,1365,1180,1420,1516,1450],
 [120,1482,520,1385,680,1260,780,1158,840,1210,900,1290,1020,1385,1200,1432,1516,1452],
 [122,1484,520,1400,690,1290,770,1240,840,1280,950,1370,1090,1415,1250,1445,1516,1458],
 [125,1486,520,1420,680,1330,760,1305,840,1330,960,1400,1120,1430,1260,1455,1516,1462],
 [128,1488,520,1440,680,1365,760,1350,860,1380,980,1430,1120,1445,1300,1462,1518,1468],
 [130,1490,500,1470,680,1395,760,1385,880,1420,1010,1445,1150,1475,1516,1475],
 [135,1470,480,1490,640,1420,760,1420,900,1445,1005,1460,1200,1500,1400,1450,1518,1480],
 [120,1475,300,1480,460,1510,620,1445,760,1460,880,1490,1005,1450,1205,1525,1400,1450,1520,1495],
 [110,1480,200,1450,395,1535,600,1450,780,1510,880,1515,1005,1448,1205,1542,1400,1448,1520,1500],
 [1087,100,1150,230,1215,450,1245,700,1215,950,1120,1180,1160,1290,1320,1375,1510,1455],
 [1172,45,1215,230,1255,500,1265,730,1240,1000,1175,1180,1210,1280,1350,1370,1510,1450],
 [1280,55,1262,180,1280,450,1300,720,1275,1000,1225,1180,1265,1270,1380,1350,1510,1445],
 [1325,90,1310,230,1305,450,1330,750,1310,1000,1255,1190,1300,1280,1420,1360,1510,1440],
 [1350,105,1340,250,1335,480,1355,760,1345,1000,1290,1200,1335,1290,1510,1435],
 [1380,118,1368,280,1365,500,1385,780,1375,1020,1325,1210,1370,1300,1510,1430],
 [1410,118,1398,300,1395,520,1410,800,1400,1040,1360,1220,1400,1310,1510,1425],
 [1440,115,1428,300,1425,550,1435,830,1425,1060,1395,1230,1430,1320,1512,1420],
 [1465,108,1450,280,1450,600,1458,870,1452,1080,1430,1240,1460,1340,1512,1415],
 [1485,100,1475,300,1475,700,1482,950,1478,1120,1462,1260,1490,1370,1512,1405],
 [1505,85,1497,300,1500,800,1505,1150,1498,1300,1515,1400],
];
const ha40IsoFan: number[][] = [
 [92,1504,140,1470,200,1452,310,1510],[92,1502,130,1468,230,1450,325,1482],[92,1500,130,1460,235,1442,340,1460],[92,1497,125,1455,240,1432,350,1440],[92,1494,120,1450,245,1420,360,1422],[92,1491,120,1442,245,1408,370,1405],[92,1488,115,1436,230,1392,320,1375],[92,1484,110,1425,185,1378,255,1345],[92,1479,102,1410,150,1362,200,1325],[92,1474,96,1395,125,1348,155,1305],
 [1518,1504,1470,1470,1400,1452,1290,1510],[1518,1502,1480,1468,1375,1450,1275,1482],[1518,1500,1482,1460,1370,1442,1260,1460],[1518,1497,1486,1455,1365,1432,1250,1440],[1518,1494,1490,1450,1360,1420,1240,1422],[1518,1491,1494,1442,1360,1408,1230,1405],[1518,1488,1498,1436,1375,1392,1285,1375],[1518,1484,1502,1425,1425,1378,1355,1345],[1518,1479,1508,1410,1460,1362,1410,1325],[1518,1474,1514,1395,1485,1348,1455,1305],
];
const ha40IsoLabels: [string, number, number][] = [["0.4",260,105],["0.2",1443,197],["0.5",488,325],["0.05",113,400],["0.4",1265,503],["0.5",583,552],["0.2",235,712],["0.6",738,722],["0.2",1412,698],["0.3",1347,880],["0.4",445,908],["0.6",1007,942],["0.1",175,1040],["0.5",1130,1117],["0.02",1503,1120],["0.3",345,1217],["0.6",555,1272],["0.5",1045,1298],["0.3",1408,1330],["0.08",110,1380],["0.8",567,1375],["0.7",982,1385],["0.7",388,1430],["0.7",1175,1412],["0.9",772,1442],["0.8",1265,1477],["1",480,1515],["0.9",215,1458],["0.9",145,1485],["0.8",1428,1442]];

const ha80WaveTop = [490,127,565,183,718,72,868,183,1018,72,1172,183,1322,72,1470,183,1545,127];
const ha80WaveBottom = [490,1502,565,1447,718,1558,868,1447,1018,1558,1172,1447,1322,1558,1470,1447,1545,1502];
const ha80Stream: number[][] = [
 [815,940,760,955,690,1040,670,1130,680,1205,745,1190,815,1120,845,1045,855,990,815,940],
 [830,843,750,875,668,1000,633,1140,640,1250,680,1265,745,1230,885,1040,912,940,890,870,830,843],
 [895,765,838,745,770,760,690,850,635,1000,605,1180,600,1280,628,1305,745,1250,840,1170,940,995,960,920,950,830,895,765],
 [930,675,838,637,740,688,650,718,588,975,575,1200,590,1320,668,1330,815,1200,968,990,1005,850,990,760,930,675],
 [968,590,900,530,838,510,782,523,690,600,625,790,562,990,552,1250,570,1340,675,1350,850,1215,985,1015,1045,800,1030,690,968,590],
 [1035,530,960,420,870,388,780,420,685,485,600,725,545,870,540,1250,555,1370,655,1380,850,1265,1000,1040,1075,840,1090,700,1035,530],
 [1052,360,960,300,860,298,760,320,665,372,575,605,530,1120,525,1350,560,1385,670,1402,830,1270,980,1075,1100,865,1135,680,1130,605,1100,450,1052,360],
 [1140,278,1050,215,980,202,945,208,855,233,745,220,650,232,570,320,543,440,525,590,518,850,510,1118,505,1385,515,1425,575,1427,690,1440,775,1405,850,1310,985,1090,1160,785,1187,525,1175,320,1140,278],
 [1295,1052,1320,1085,1300,1140,1230,1182,1210,1150,1240,1090,1295,1052],
 [1330,963,1380,1055,1385,1180,1250,1240,1160,1240,1140,1190,1170,1120,1265,1000,1330,963],
 [1340,898,1392,920,1415,1030,1415,1120,1390,1180,1290,1270,1205,1290,1110,1270,1090,1220,1110,1160,1260,900,1340,898],
 [1365,838,1430,905,1445,1050,1395,1240,1270,1310,1120,1325,1075,1320,1050,1280,1025,1215,1115,1095,1262,900,1365,838],
 [1380,768,1465,815,1462,905,1460,1165,1320,1335,1110,1362,1015,1330,1010,1280,1025,1215,1150,1005,1320,795,1380,768],
 [1398,683,1465,770,1490,1035,1470,1200,1385,1358,1185,1378,985,1375,955,1310,975,1210,1100,995,1305,740,1398,683],
 [1405,535,1450,570,1492,715,1510,980,1500,1250,1470,1340,1360,1408,1165,1403,965,1418,920,1385,915,1270,1030,1080,1245,755,1375,545,1405,535],
 [1295,345,1360,250,1470,240,1500,280,1512,485,1527,750,1530,1020,1527,1290,1525,1395,1505,1418,1410,1438,1330,1478,1215,1440,1130,1435,1010,1490,945,1462,875,1410,865,1370,915,1270,1050,1015,1170,850,1250,605,1270,450,1295,345],
];
const ha80Arrows = [945,208,855,233,745,220,650,232,570,320,543,440,530,590,522,710,518,850,515,975,510,1118,508,1240,505,1385,575,1427,775,1405,860,298,665,372,575,605,545,870,530,1120,540,1250,670,1402,1052,360,870,388,685,485,600,725,562,990,655,1380,1035,530,780,523,650,718,588,975,675,1350,968,590,735,688,635,915,582,1170,668,1330,930,675,895,765,625,1065,628,1305,835,843,635,1145,690,1210,745,1230,840,1045,885,1040,940,995,970,990,985,1015,975,1075,985,1090,1075,840,1100,865,1160,785,1160,850,1130,605,1187,525,1140,278,1250,605,1245,755,1305,740,1320,795,1262,900,1165,935,1105,995,1050,1015,1150,1005,1115,1095,1040,1065,1165,1120,1110,1160,1025,1215,975,1210,915,1270,845,1215,810,1200,850,1190,835,1265,845,1280,1470,240,1295,345,1512,485,1520,600,1527,750,1530,1020,1530,1130,1527,1290,1525,1395,1410,1438,1330,1478,1215,1440,1130,1435,945,1462,1165,1403,965,1418,1360,1408,1185,1378,985,1375,1385,1358,1110,1362,1320,1335,1075,1320,1270,1310,1205,1290,1250,1240,1230,1182,1492,715,1465,770,1490,1035,1510,980,1500,1250,1460,905,1430,905,1392,920,1380,1055,1385,1180,1325,795];

const ha80IsoTop = [113,115,220,155,420,72,615,155,815,72,1010,155,1210,72,1410,155,1515,115];
const ha80IsoBottom = [113,1495,220,1448,420,1535,620,1448,815,1535,1015,1448,1215,1535,1410,1448,1515,1495];
const ha80Iso: number[][] = [
 [655,150,658,190,620,290,520,470,400,700,260,1050,125,1465],
 [548,138,500,290,400,530,280,850,170,1200,122,1462],
 [420,72,410,200,370,500,270,850,180,1150,118,1460],
 [300,125,325,220,300,480,230,850,160,1200,115,1458],
 [248,150,262,250,245,520,205,850,150,1200,115,1456],
 [203,155,195,450,175,800,140,1200,115,1455],
 [153,142,140,250,135,600,125,1000,115,1450],
 [960,150,965,190,1010,280,1150,430,1250,680,1330,1000,1420,1280,1505,1462],
 [1072,140,1150,290,1280,620,1370,950,1440,1250,1508,1460],
 [1197,75,1220,260,1310,600,1390,950,1460,1250,1510,1455],
 [1320,135,1305,220,1340,500,1420,850,1470,1200,1510,1450],
 [1375,155,1375,300,1420,650,1470,1000,1490,1250,1512,1445],
 [1430,155,1430,300,1455,700,1490,1100,1512,1440],
 [1475,135,1490,350,1500,800,1512,1200],
 [130,1470,260,1100,400,760,570,500,700,390,820,348,950,385,1100,520,1230,760,1320,1030,1410,1280,1500,1465],
 [135,1472,290,1110,440,800,590,580,720,490,840,465,980,510,1120,640,1220,820,1300,1060,1400,1300,1500,1468],
 [140,1473,320,1120,470,830,620,640,730,575,850,552,980,590,1100,700,1210,880,1290,1090,1390,1310,1498,1470],
 [142,1474,340,1130,490,860,640,690,740,640,850,623,970,660,1090,760,1190,920,1270,1110,1380,1320,1496,1471],
 [145,1475,355,1140,510,890,650,745,760,695,860,690,960,720,1080,820,1170,960,1250,1130,1370,1330,1495,1472],
 [148,1476,370,1150,530,920,660,800,770,750,850,745,960,770,1070,870,1155,1000,1235,1150,1360,1340,1494,1473],
 [150,1477,385,1165,545,950,670,845,780,800,850,795,950,820,1060,920,1140,1040,1220,1170,1350,1350,1492,1474],
 [152,1478,400,1180,560,975,680,885,780,850,840,845,940,870,1050,970,1125,1070,1205,1190,1340,1360,1490,1475],
 [155,1479,415,1195,570,1000,690,925,780,905,835,900,930,920,1040,1010,1110,1100,1190,1205,1330,1370,1488,1476],
 [158,1480,430,1210,585,1030,700,960,790,945,920,965,1030,1050,1100,1130,1175,1225,1320,1380,1486,1477],
 [160,1481,445,1225,600,1060,710,1000,820,990,920,1010,1020,1085,1090,1160,1165,1240,1310,1390,1484,1478],
 [162,1482,460,1240,615,1090,720,1050,820,1040,910,1060,1010,1125,1080,1190,1155,1255,1300,1395,1482,1478],
 [165,1483,475,1255,630,1120,730,1085,820,1085,910,1105,1000,1165,1090,1240,1180,1295,1310,1400,1480,1479],
 [168,1484,490,1275,640,1160,740,1135,830,1130,920,1155,1000,1200,1090,1270,1210,1330,1340,1415,1478,1480],
 [170,1485,500,1300,650,1190,750,1180,830,1175,920,1195,1010,1250,1120,1320,1260,1375,1470,1482],
 [172,1486,500,1330,660,1235,750,1220,830,1215,930,1240,1030,1290,1140,1350,1290,1400,1470,1484],
 [175,1487,500,1355,660,1275,750,1260,830,1260,950,1290,1060,1340,1180,1385,1320,1425,1470,1486],
 [178,1488,500,1375,660,1310,750,1295,830,1295,950,1320,1060,1370,1200,1410,1340,1440,1468,1488],
 [180,1489,480,1400,640,1350,750,1335,830,1335,950,1350,1060,1395,1220,1430,1470,1490],
 [160,1478,300,1425,480,1420,640,1380,750,1365,830,1365,950,1385,1060,1415,1220,1455,1480,1480],
 [150,1482,300,1440,470,1455,640,1405,750,1400,850,1400,950,1415,1050,1435,1240,1480,1480,1482],
 [140,1484,290,1455,460,1480,620,1425,750,1425,850,1440,950,1445,1040,1448,1230,1505,1410,1455,1490,1485],
 [130,1484,240,1452,440,1515,620,1440,730,1450,820,1500,950,1470,1030,1448,1215,1520,1410,1452,1500,1488],
 [125,1488,225,1448,430,1530,620,1448,720,1480,815,1530,930,1490,1015,1448,1215,1532,1410,1448,1505,1490],
];
const ha80IsoFan: number[][] = [
 [115,1494,170,1465,230,1450,330,1500],[115,1492,160,1462,255,1445,345,1470],[115,1490,160,1455,260,1435,360,1450],[115,1487,155,1450,265,1425,370,1432],[115,1484,150,1445,265,1412,375,1415],[115,1481,145,1438,255,1398,335,1385],[115,1478,140,1430,225,1380,295,1350],[115,1474,132,1415,190,1360,250,1318],[115,1469,125,1400,160,1345,205,1290],[115,1464,120,1385,140,1325,170,1265],
 [1513,1494,1460,1465,1400,1450,1300,1500],[1513,1492,1470,1462,1375,1445,1285,1470],[1513,1490,1470,1455,1370,1435,1270,1450],[1513,1487,1475,1450,1365,1425,1260,1432],[1513,1484,1480,1445,1365,1412,1255,1415],[1513,1481,1485,1438,1375,1398,1295,1385],[1513,1478,1490,1430,1405,1380,1335,1350],[1513,1474,1498,1415,1440,1360,1380,1318],[1513,1469,1505,1400,1470,1345,1425,1290],[1513,1464,1510,1385,1490,1325,1460,1265],
];
const ha80IsoLabels: [string, number, number][] = [["0.2",418,127],["0.08",1382,155],["0.02",138,402],["0.3",715,498],["0.4",868,688],["0.1",1402,793],["0.3",467,853],["0.5",815,857],["0.5",803,955],["0.05",155,980],["0.3",1317,1028],["0.5",1157,1063],["0.6",640,1085],["0.4",345,1145],["0.6",530,1215],["0.6",1045,1223],["0.2",1430,1250],["0.8",683,1275],["0.7",990,1290],["0.2",185,1305],["0.7",452,1323],["0.7",1145,1347],["0.5",1392,1370],["0.9",507,1418],["0.9",868,1415],["0.8",302,1430],["0.8",1293,1443],["0.9",1092,1455],["0.4",130,1453],["1",748,1492]];

const AXIS_MAX = 1568;

const pts = (flat: number[]) => {
  const out: { x: number; y: number }[] = [];
  for (let i = 0; i + 1 < flat.length; i += 2) out.push({ x: flat[i], y: flat[i + 1] });
  return out;
};

// Seat an arrow head on the nearest streamline and point it along that streamline's direction.
function seatArrow(x: number, y: number, curves: number[][], sx: number, sy: number) {
  let best = Infinity, rot = 0, qx = x, qy = y;
  for (const c of curves) {
    for (let i = 0; i + 3 < c.length; i += 2) {
      const ax = c[i] * sx, ay = c[i + 1] * sy, bx = c[i + 2] * sx, by = c[i + 3] * sy;
      const px = x * sx, py = y * sy, dx = bx - ax, dy = by - ay;
      const len = dx * dx + dy * dy || 1;
      const t = Math.max(0, Math.min(1, ((px - ax) * dx + (py - ay) * dy) / len));
      const d = (px - ax - t * dx) ** 2 + (py - ay - t * dy) ** 2;
      if (d < best) {
        best = d;
        rot = (Math.atan2(dx, -dy) * 180) / Math.PI;
        if (d > 36) { qx = (ax + t * dx) / sx; qy = (ay + t * dy) / sy; } else { qx = x; qy = y; }
      }
    }
  }
  return { x: qx, y: qy, rot };
}

type PanelProps = {
  left: number; top: number; width: number; height: number;
  waveTop: number[]; waveBottom: number[]; curves: number[][];
  arrows?: number[]; arrowSize?: number; labels?: [string, number, number][]; lineWidth: number;
};

function Panel({ left, top, width, height, waveTop, waveBottom, curves, arrows, arrowSize, labels, lineWidth }: PanelProps) {
  const ref = useRef<HTMLCanvasElement>(null);
  useEffect(() => {
    const sx = width / AXIS_MAX, sy = height / AXIS_MAX;
    const line = (d: number[], tension: number, color: string, w: number) => ({
      data: pts(d), showLine: true, tension, borderColor: color, borderWidth: w, pointRadius: 0, fill: false,
    });
    const n = waveTop.length;
    const datasets: any[] = [
      line(waveTop, 0.4, "#333", 1.1),
      line(waveBottom, 0.4, "#333", 1.1),
      line([waveTop[0], waveTop[1], waveBottom[0], waveBottom[1]], 0, "#333", 1.1),
      line([waveTop[n - 2], waveTop[n - 1], waveBottom[n - 2], waveBottom[n - 1]], 0, "#333", 1.1),
      ...curves.map((c) => line(c, 0.4, "#000", lineWidth)),
    ];
    if (arrows) {
      const seated = pts(arrows).map((p) => seatArrow(p.x, p.y, curves, sx, sy));
      datasets.push({
        data: seated.map((s) => ({ x: s.x, y: s.y })), showLine: false, pointStyle: "triangle", pointRadius: arrowSize,
        pointRotation: seated.map((s) => s.rot),
        pointBackgroundColor: "#000", pointBorderColor: "#000", pointBorderWidth: 0,
      });
    }
    const labelPlugin = {
      id: "contourLabels",
      afterDatasetsDraw(chart: any) {
        if (!labels) return;
        const { ctx, scales } = chart;
        ctx.save();
        ctx.fillStyle = "#000";
        ctx.font = '21px "DejaVu Sans"';
        ctx.textAlign = "center";
        ctx.textBaseline = "middle";
        for (const [t, x, y] of labels) ctx.fillText(t, scales.x.getPixelForValue(x), scales.y.getPixelForValue(y));
        ctx.restore();
      },
    };
    const chart = new Chart(ref.current!, {
      type: "scatter",
      data: { datasets },
      plugins: [labelPlugin],
      options: {
        animation: false, responsive: false,
        layout: { padding: 0 },
        plugins: { legend: { display: false }, tooltip: { enabled: false } },
        scales: {
          x: { type: "linear", display: false, min: 0, max: AXIS_MAX },
          y: { type: "linear", display: false, min: 0, max: AXIS_MAX, reverse: true },
        },
      },
    } as any);
    return () => chart.destroy();
  }, []);
  return <canvas ref={ref} width={width} height={height} style={{ position: "absolute", left, top, width, height }} />;
}

const titleStyle = (left: number, top: number): React.CSSProperties => ({
  position: "absolute", left, top, fontFamily: '"Liberation Serif", serif', fontSize: 42, lineHeight: "42px", wordSpacing: 4, color: "#111", whiteSpace: "pre",
});

export default function App() {
  return (
    <div style={{ position: "absolute", left: 0, top: 0, width: 1503, height: 2500, background: "#fff" }}>
      <Panel left={0} top={0} width={820} height={600} waveTop={ha0WaveTop} waveBottom={ha0WaveBottom} curves={ha0Stream} arrows={ha0Arrows} arrowSize={4} lineWidth={1.3} />
      <Panel left={880} top={0} width={620} height={600} waveTop={ha0IsoTop} waveBottom={ha0IsoBottom} curves={[...ha0Iso, ...ha0IsoFan]} labels={ha0IsoLabels} lineWidth={1} />
      <Panel left={0} top={610} width={820} height={620} waveTop={ha20WaveTop} waveBottom={ha20WaveBottom} curves={ha20Stream} arrows={ha20Arrows} arrowSize={4.8} lineWidth={1.3} />
      <Panel left={880} top={610} width={620} height={620} waveTop={ha20IsoTop} waveBottom={ha20IsoBottom} curves={[...ha20Iso, ...ha20IsoFan]} labels={ha20IsoLabels} lineWidth={1} />
      <Panel left={0} top={1230} width={820} height={620} waveTop={ha40WaveTop} waveBottom={ha40WaveBottom} curves={ha40Stream} arrows={ha40Arrows} arrowSize={4.8} lineWidth={1.3} />
      <Panel left={880} top={1230} width={620} height={620} waveTop={ha40IsoTop} waveBottom={ha40IsoBottom} curves={[...ha40Iso, ...ha40IsoFan]} labels={ha40IsoLabels} lineWidth={1} />
      <Panel left={0} top={1870} width={820} height={630} waveTop={ha80WaveTop} waveBottom={ha80WaveBottom} curves={ha80Stream} arrows={ha80Arrows} arrowSize={4.8} lineWidth={1.3} />
      <Panel left={880} top={1870} width={620} height={630} waveTop={ha80IsoTop} waveBottom={ha80IsoBottom} curves={[...ha80Iso, ...ha80IsoFan]} labels={ha80IsoLabels} lineWidth={1} />
      <div style={titleStyle(14, 3)}><i>Ha</i> = 0</div>
      <div style={titleStyle(3, 614)}><i>Ha</i> = 20</div>
      <div style={titleStyle(3, 1236)}><i>Ha</i> = 40</div>
      <div style={titleStyle(28, 1891)}><i>Ha</i> = 80</div>
    </div>
  );
}
